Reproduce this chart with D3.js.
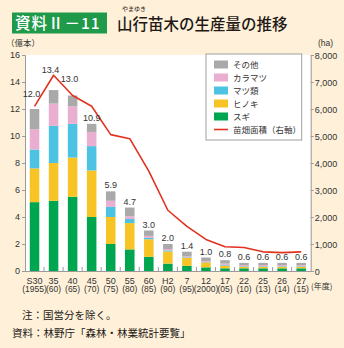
<!DOCTYPE html>
<html>
<head>
<meta charset="utf-8">
<script src="https://cdn.jsdelivr.net/npm/d3@7"></script>
<style>
  body { margin: 0; background: #fff1d9; }
  svg { display: block; }
</style>
</head>
<body>
<div id="viz"></div>
<script>
const categories = ['S30', '35', '40', '45', '50', '55', '60', 'H2', '7', '12', '17', '22', '25', '26', '27'];
const years = ['(1955)', '(60)', '(65)', '(70)', '(75)', '(80)', '(85)', '(90)', '(95)', '(2000)', '(05)', '(10)', '(13)', '(14)', '(15)'];
const totals = ['12.0', '13.4', '13.0', '10.9', '5.9', '4.7', '3.0', '2.0', '1.4', '1.0', '0.8', '0.6', '0.6', '0.6', '0.6'];

// 億本
const sugi = [5.1, 5.2, 5.5, 4.0, 2.0, 1.6, 1.05, 0.55, 0.38, 0.27, 0.2, 0.2, 0.2, 0.2, 0.2];
const hinoki = [2.5, 2.8, 2.9, 3.45, 2.0, 1.95, 1.3, 0.9, 0.6, 0.37, 0.2, 0.12, 0.12, 0.12, 0.12];
const matsu = [1.4, 2.75, 2.5, 1.8, 0.75, 0.3, 0.1, 0.08, 0.04, 0.04, 0.05, 0.04, 0.04, 0.04, 0.04];
const karamatsu = [1.5, 1.65, 1.3, 1.05, 0.45, 0.2, 0.15, 0.1, 0.06, 0.06, 0.1, 0.08, 0.08, 0.08, 0.08];
const other = [1.5, 1.0, 0.8, 0.6, 0.7, 0.65, 0.4, 0.37, 0.35, 0.26, 0.25, 0.16, 0.16, 0.16, 0.16];

// ha
const nursery = [6100, 7250, 6500, 6100, 5050, 4900, 3700, 2250, 1650, 1170, 900, 870, 710, 680, 710];

const leftTicks = [0, 2, 4, 6, 8, 10, 12, 14, 16];
const rightTicks = [0, 1000, 2000, 3000, 4000, 5000, 6000, 7000, 8000];

const seriesKeys = ['sugi', 'hinoki', 'matsu', 'karamatsu', 'other'];
const seriesNames = { sugi: 'スギ', hinoki: 'ヒノキ', matsu: 'マツ類', karamatsu: 'カラマツ', other: 'その他' };
const colors = { sugi: '#00a54f', hinoki: '#f7c325', matsu: '#4cc3e2', karamatsu: '#e9aed0', other: '#a9a9a9' };
const lineColor = '#e2321f';

const table = categories.map((c, i) => ({
  cat: c, sugi: sugi[i], hinoki: hinoki[i], matsu: matsu[i], karamatsu: karamatsu[i], other: other[i]
}));

const W = 344, H = 348;
const x0 = 25, x1 = 310.7, yTop = 55, yBot = 271;
const num = '"Liberation Sans", Arial, sans-serif';
const narrow = '"Liberation Sans Narrow", "Liberation Sans", Arial, sans-serif';
const jp = '"Noto Sans CJK JP", sans-serif';

const svg = d3.select('#viz').append('svg')
    .attr('width', W)
    .attr('height', H);

svg.append('rect').attr('width', W).attr('height', H).attr('fill', '#fff1d9');

// title
svg.append('rect')
    .attr('x', 12).attr('y', 12.5)
    .attr('width', 95).attr('height', 21)
    .attr('fill', '#1f9a4b');
svg.append('text')
    .attr('x', 15).attr('y', 29)
    .attr('fill', '#fff')
    .attr('font-family', jp)
    .attr('font-size', 15.5)
    .attr('font-weight', 500)
    .attr('letter-spacing', 1)
    .text('資料Ⅱ－11');
svg.append('text')
    .attr('x', 117).attr('y', 29.5)
    .attr('fill', '#231815')
    .attr('font-family', jp)
    .attr('font-size', 15.5)
    .attr('font-weight', 500)
    .text('山行苗木の生産量の推移');
svg.append('text')
    .attr('x', 122).attr('y', 11)
    .attr('fill', '#231815')
    .attr('font-family', jp)
    .attr('font-size', 6)
    .text('やまゆき');

// units
svg.append('text').attr('x', 6).attr('y', 46)
    .attr('font-family', jp).attr('font-size', 8.5).attr('fill', '#333')
    .text('（億本）');
svg.append('text').attr('x', 318).attr('y', 46)
    .attr('font-family', num).attr('font-size', 8.5).attr('fill', '#333')
    .text('(ha)');

// plot area
svg.append('rect')
    .attr('x', x0).attr('y', yTop)
    .attr('width', x1 - x0).attr('height', yBot - yTop)
    .attr('fill', '#fff');

const x = d3.scaleBand().domain(categories).range([x0, x1]).paddingInner(0.5).paddingOuter(0.25);
const y = d3.scaleLinear().domain([0, 16]).range([yBot, yTop]);
const y2 = d3.scaleLinear().domain([0, 8000]).range([yBot, yTop]);

const stack = d3.stack().keys(seriesKeys)(table);

svg.append('g')
  .selectAll('g')
  .data(stack)
  .join('g')
    .attr('fill', d => colors[d.key])
  .selectAll('rect')
  .data(d => d)
  .join('rect')
    .attr('x', d => x(d.data.cat))
    .attr('y', d => y(d[1]))
    .attr('width', x.bandwidth())
    .attr('height', d => y(d[0]) - y(d[1]));

// axes
const axisColor = '#9a9a9a';
const left = svg.append('g')
    .attr('transform', `translate(${x0},0)`)
    .call(d3.axisLeft(y).tickValues(leftTicks).tickSize(3).tickPadding(2));
const right = svg.append('g')
    .attr('transform', `translate(${x1},0)`)
    .call(d3.axisRight(y2).tickValues(rightTicks).tickSize(3).tickPadding(1)
      .tickFormat(d3.format(',')));
const bottom = svg.append('g')
    .attr('transform', `translate(0,${yBot})`)
    .call(d3.axisBottom(x).tickSize(0).tickFormat(''));

[left, right, bottom].forEach(g => {
  g.select('.domain').attr('stroke', axisColor);
  g.selectAll('.tick line').attr('stroke', axisColor);
  g.selectAll('.tick text')
    .attr('fill', '#333')
    .attr('font-family', num)
    .attr('font-size', 9);
});
right.selectAll('.tick text').attr('dy', '0.35em');

// small ticks between bars, pointing up into the plot
const step = x.step();
svg.append('g')
  .selectAll('line')
  .data(categories.slice(1))
  .join('line')
    .attr('x1', d => x(d) - step * 0.25)
    .attr('x2', d => x(d) - step * 0.25)
    .attr('y1', yBot)
    .attr('y2', yBot - 4)
    .attr('stroke', axisColor);

// category labels
const cx = d => x(d) + x.bandwidth() / 2;
svg.append('g')
  .selectAll('text')
  .data(categories)
  .join('text')
    .attr('x', d => cx(d))
    .attr('y', 283.5)
    .attr('text-anchor', 'middle')
    .attr('font-family', narrow)
    .attr('font-size', 9)
    .attr('fill', '#333')
    .text(d => d);
svg.append('g')
  .selectAll('text')
  .data(years)
  .join('text')
    .attr('x', (d, i) => cx(categories[i]))
    .attr('y', 292)
    .attr('text-anchor', 'middle')
    .attr('font-family', narrow)
    .attr('font-size', 8.5)
    .attr('fill', '#333')
    .text(d => d);
svg.append('text')
    .attr('x', 311).attr('y', 289)
    .attr('font-family', jp)
    .attr('font-size', 8)
    .attr('fill', '#333')
    .text('(年度)');

// line
const line = d3.line()
    .x((d, i) => cx(categories[i]))
    .y(d => y2(d));
svg.append('path')
    .datum(nursery)
    .attr('d', line)
    .attr('fill', 'none')
    .attr('stroke', lineColor)
    .attr('stroke-width', 1.6)
    .attr('stroke-linejoin', 'round');

// line height just left of a category centre (for labels that sit above the line)
const lineYLeft = (i, dx) => {
  if (i === 0) return y2(nursery[0]);
  const t = dx / step;
  return y2(nursery[i]) + (y2(nursery[i - 1]) - y2(nursery[i])) * t;
};

// total labels
const sums = table.map(d => seriesKeys.reduce((s, k) => s + d[k], 0));
svg.append('g')
  .selectAll('text')
  .data(totals)
  .join('text')
    .attr('x', (d, i) => cx(categories[i]) - (i < 3 ? 3 : 0))
    .attr('y', (d, i) => i < 3 ? lineYLeft(i, 4) - 9 : y(sums[i]) - 3)
    .attr('text-anchor', 'middle')
    .attr('font-family', narrow)
    .attr('font-size', 9)
    .attr('fill', '#333')
    .text(d => d);

// legend
const lg = svg.append('g').attr('transform', 'translate(206,54)');
lg.append('rect')
    .attr('width', 95.7).attr('height', 86)
    .attr('fill', '#fff')
    .attr('stroke', '#a0a0a0');
const legendItems = ['other', 'karamatsu', 'matsu', 'hinoki', 'sugi'];
legendItems.forEach((k, i) => {
  lg.append('rect')
      .attr('x', 8).attr('y', 6.5 + i * 13)
      .attr('width', 14).attr('height', 8)
      .attr('fill', colors[k]);
  lg.append('text')
      .attr('x', 27).attr('y', 13.8 + i * 13)
      .attr('font-family', jp).attr('font-size', 8.5).attr('fill', '#333')
      .text(seriesNames[k]);
});
lg.append('line')
    .attr('x1', 8).attr('x2', 22)
    .attr('y1', 75.5).attr('y2', 75.5)
    .attr('stroke', lineColor).attr('stroke-width', 1.6);
lg.append('text')
    .attr('x', 27).attr('y', 78.8)
    .attr('font-family', jp).attr('font-size', 8.5).attr('fill', '#333')
    .text('苗畑面積（右軸）');

// notes
svg.append('text').attr('x', 22).attr('y', 319)
    .attr('font-family', jp).attr('font-size', 10.5).attr('fill', '#231815')
    .text('注：国営分を除く。');
svg.append('text').attr('x', 12).attr('y', 337)
    .attr('font-family', jp).attr('font-size', 10.5).attr('fill', '#231815')
    .text('資料：林野庁「森林・林業統計要覧」');
</script>
</body>
</html>
